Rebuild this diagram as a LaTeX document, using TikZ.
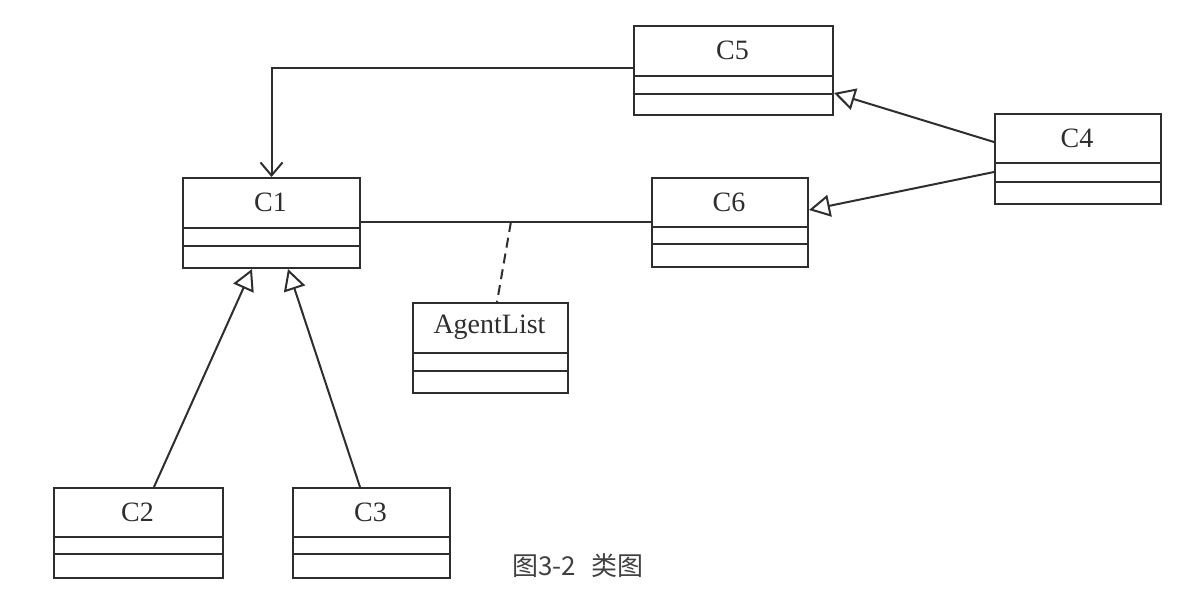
\documentclass[tikz,border=0pt]{standalone}
\usepackage{fontspec}
\setmainfont{Liberation Serif}
\newfontfamily\cjk{Noto Sans CJK SC}
\usetikzlibrary{arrows.meta,calc}
\definecolor{ink}{HTML}{2E2E2E}
\tikzset{
  umlbox/.style={draw=ink, line width=2pt, anchor=north west, inner sep=0pt, fill=white},
  lbl/.style={font=\fontsize{28}{32}\selectfont, text=ink},
  conn/.style={draw=ink, line width=2pt},
  gen/.style={conn, -{Triangle[open, length=21pt, width=22pt, fill=white]}},
  nav/.style={conn, -{Straight Barb[length=13pt, width=22pt]}},
}
% \umlclass{name}{x1}{y1}{x2}{y2}{line1}{line2}{label}
\newcommand\umlclass[8]{%
  \node[umlbox, minimum width=#4-#2, minimum height=#5-#3] (#1) at (#2,#3) {};
  \draw[ink, line width=2pt] (#2,#6) -- (#4,#6);
  \draw[ink, line width=2pt] (#2,#7) -- (#4,#7);
  \node[lbl] (#1-name) at ({(#2+#4)/2},{(#3+#6)/2}) {#8};
}
\begin{document}
\begin{tikzpicture}[x=1pt, y=-1pt]
\useasboundingbox (0,0) rectangle (1200,606);
\umlclass{c5}{633}{25}{832}{114}{76}{94}{C5}
\umlclass{c1}{182}{177}{359}{267}{228}{246}{C1}
\umlclass{c6}{651}{177}{807}{266}{227}{244}{C6}
\umlclass{c4}{994}{113}{1160}{203}{163}{182}{C4}
\umlclass{al}{412}{302}{567}{392}{353}{371}{AgentList}
\umlclass{c2}{53}{487}{222}{577}{537}{554}{C2}
\umlclass{c3}{292}{487}{449}{577}{537}{554}{C3}

% association C1 -- C6 with association class AgentList
\draw[conn] ([yshift=-45pt]c1.north east) -- ([yshift=-45pt]c6.north west)
  coordinate[pos=0.517] (mid);
\draw[conn, dash pattern=on 10pt off 6pt] (mid) -- ([xshift=85pt]al.north west);

% navigable association C5 -> C1
\draw[nav] ([yshift=-43pt]c5.north west) -| (c1.north);

% generalizations
\draw[gen] ([yshift=-29pt]c4.north west) -- ([yshift=-68pt]c5.north east);
\draw[gen] ([yshift=-59pt]c4.north west) -- ([yshift=-33pt]c6.north east);
\draw[gen] ([xshift=101pt]c2.north west) -- ([xshift=70pt]c1.south west);
\draw[gen] ([xshift=68pt]c3.north west) -- ([xshift=106pt]c1.south west);

\node[font=\cjk\fontsize{26}{30}\selectfont, text=black!75, anchor=west, inner sep=0pt] (cap) at (512,566) {图3-2\hspace{0.6em}类图};
\end{tikzpicture}
\end{document}
